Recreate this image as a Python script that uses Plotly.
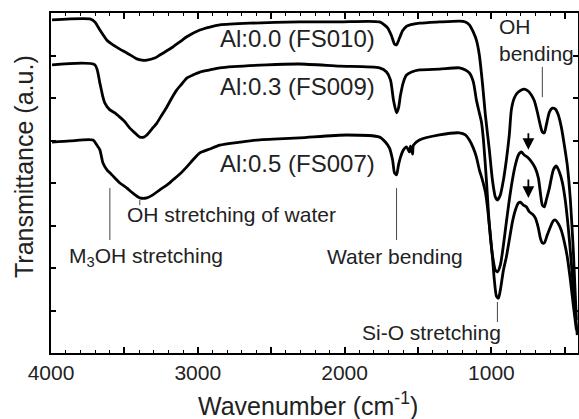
import plotly.graph_objects as go

# ---- data ----
wn_fs010 = [3993, 3735, 3701, 3667, 3619, 3578, 3531, 3483, 3415, 3381, 3347, 3293, 3259, 3211, 3170, 3122, 3075,
            2986, 2918, 2850, 2646, 2306, 2034, 1762, 1707, 1680, 1660, 1646, 1626, 1605, 1578, 1490, 1354, 1218,
            1177, 1150, 1123, 1102, 1082, 1061, 1041, 1014, 993, 973, 959, 939, 918, 898, 878, 864, 844, 823, 796,
            776, 748, 728, 707, 687, 667, 653, 639, 626, 605, 585, 564, 544, 524, 503, 483, 462, 442, 421]
t_fs010 = [7.84, 7.86, 7.79, 7.60, 7.36, 7.25, 7.15, 7.06, 6.92, 6.89, 6.89, 6.94, 7.01, 7.11, 7.20, 7.32, 7.44,
           7.60, 7.67, 7.72, 7.76, 7.79, 7.79, 7.79, 7.65, 7.46, 7.27, 7.25, 7.41, 7.58, 7.69, 7.76, 7.79, 7.81,
           7.79, 7.72, 7.55, 7.36, 7.01, 6.35, 5.60, 4.78, 4.07, 3.67, 3.60, 3.72, 4.07, 4.54, 5.13, 5.72, 6.00,
           6.12, 6.19, 6.21, 6.16, 6.07, 5.93, 5.67, 5.36, 5.20, 5.18, 5.36, 5.67, 5.76, 5.74, 5.60, 5.32, 4.89,
           4.42, 3.60, 2.42, 0.78]

wn_fs009 = [3993, 3701, 3667, 3646, 3633, 3599, 3565, 3531, 3497, 3463, 3429, 3395, 3367, 3347, 3313, 3279, 3245,
            3211, 3177, 3143, 3109, 3075, 3034, 2986, 2918, 2850, 2530, 2306, 2034, 1762, 1714, 1687, 1667, 1646,
            1633, 1619, 1599, 1578, 1544, 1490, 1354, 1218, 1177, 1150, 1123, 1102, 1082, 1068, 1054, 1034, 1014,
            993, 973, 959, 939, 918, 898, 878, 857, 837, 816, 796, 776, 748, 721, 701, 680, 667, 653, 639, 626,
            605, 578, 558, 537, 517, 497, 476, 456, 435, 415]
t_fs009 = [6.78, 6.78, 6.35, 6.02, 5.88, 5.72, 5.65, 5.55, 5.44, 5.29, 5.18, 5.08, 5.08, 5.13, 5.27, 5.41, 5.60,
           5.79, 6.00, 6.19, 6.33, 6.47, 6.54, 6.61, 6.66, 6.71, 6.78, 6.80, 6.75, 6.71, 6.61, 6.42, 5.95, 5.65,
           5.76, 6.07, 6.38, 6.54, 6.61, 6.66, 6.68, 6.71, 6.66, 6.59, 6.38, 5.95, 5.65, 5.44, 5.01, 4.07, 3.01,
           2.31, 1.95, 1.91, 2.07, 2.54, 3.08, 3.60, 4.07, 4.42, 4.66, 4.73, 4.66, 4.59, 4.47, 4.35, 4.12, 3.79,
           3.48, 3.44, 3.60, 3.88, 4.31, 4.40, 4.26, 4.02, 3.60, 2.94, 2.14, 1.25, 0.42]

wn_fs007 = [3993, 3871, 3714, 3687, 3667, 3646, 3619, 3599, 3565, 3531, 3483, 3442, 3395, 3347, 3306, 3259, 3211,
            3170, 3122, 3075, 3034, 2986, 2918, 2850, 2714, 2599, 2306, 1986, 1762, 1721, 1694, 1673, 1660, 1646,
            1633, 1619, 1599, 1578, 1558, 1551, 1537, 1531, 1490, 1354, 1218, 1177, 1150, 1123, 1102, 1082, 1061,
            1041, 1027, 1007, 993, 980, 966, 952, 939, 918, 898, 878, 857, 837, 816, 803, 782, 762, 741, 721, 701,
            680, 667, 653, 639, 619, 599, 578, 564, 544, 524, 503, 483, 462, 442, 421]
t_fs007 = [4.96, 4.99, 5.01, 4.89, 4.78, 4.47, 4.31, 4.24, 4.12, 4.00, 3.88, 3.76, 3.65, 3.65, 3.72, 3.84, 3.95,
           4.07, 4.21, 4.38, 4.54, 4.71, 4.80, 4.89, 4.96, 5.01, 5.06, 5.13, 5.08, 4.96, 4.82, 4.54, 4.24, 4.19,
           4.42, 4.61, 4.78, 4.85, 4.73, 4.87, 4.68, 4.89, 5.01, 5.13, 5.18, 5.13, 5.01, 4.82, 4.61, 4.31, 4.07,
           3.79, 3.44, 2.78, 2.26, 1.72, 1.34, 1.29, 1.48, 1.95, 2.26, 2.66, 3.08, 3.36, 3.53, 3.55, 3.48, 3.44,
           3.32, 3.27, 3.18, 2.94, 2.71, 2.59, 2.59, 2.78, 2.96, 3.11, 3.13, 3.04, 2.89, 2.61, 2.26, 1.72, 1.13,
           0.54]

series_names = ["Al:0.0 (FS010)", "Al:0.3 (FS009)", "Al:0.5 (FS007)"]
label_pos = [(2323, 7.40), (2323, 6.27), (2323, 4.46)]

x_tickvals = [4000, 3500, 3000, 2500, 2000, 1500, 1000, 500]
x_ticktext = ["4000", "", "3000", "", "2000", "", "1000", ""]
y_tickvals = [1, 2, 3, 4, 5, 6, 7]

FONT = "Liberation Sans, Arial, sans-serif"

fig = go.Figure()
for wn, t, name in [(wn_fs010, t_fs010, series_names[0]),
                    (wn_fs009, t_fs009, series_names[1]),
                    (wn_fs007, t_fs007, series_names[2])]:
    fig.add_trace(go.Scatter(x=wn, y=t, mode="lines", name=name,
                             line=dict(color="black", width=2.8, shape="spline", smoothing=0.6),
                             showlegend=False))

# series labels
for name, (lx, ly) in zip(series_names, label_pos):
    fig.add_annotation(x=lx, y=ly, text=name, showarrow=False, xanchor="center", yanchor="middle",
                       font=dict(size=24, color="#222", family=FONT))

# band marker lines
marker_lines = [(3599, 3.88, 2.66), (3395, 3.60, 3.48), (1646, 3.88, 2.66), (959, 1.20, 0.73), (653, 6.73, 6.02)]
for mx, y0, y1 in marker_lines:
    fig.add_shape(type="line", x0=mx, x1=mx, y0=y0, y1=y1, xref="x", yref="y",
                  line=dict(color="#444", width=1))

# band labels
band_labels = [
    ("M<sub>3</sub>OH stretching", 3891, 2.26, "left"),
    ("OH stretching of water", 3497, 3.25, "left"),
    ("Water bending", 1660, 2.26, "center"),
    ("Si-O stretching", 1408, 0.49, "center"),
]
for txt, bx, by, anc in band_labels:
    fig.add_annotation(x=bx, y=by, text=txt, showarrow=False, xanchor=anc, yanchor="middle",
                       font=dict(size=21, color="#222", family=FONT))
fig.add_annotation(x=959, y=7.37, text="OH<br>bending", showarrow=False, xanchor="left", yanchor="middle",
                   align="left", font=dict(size=21, color="#222", family=FONT))

# arrows at ~750 cm-1
for tip, tail_px in [(4.78, 18), (3.65, 20)]:
    fig.add_annotation(x=748, y=tip, ax=0, ay=-tail_px, text="", showarrow=True, arrowhead=2,
                       arrowsize=1.3, arrowwidth=1.8, arrowcolor="black", axref="pixel", ayref="pixel")

# axis titles
fig.add_annotation(x=2252, y=-0.15, xref="x", yref="paper", text="Wavenumber (cm<sup>-1</sup>)",
                   showarrow=False, xanchor="center", yanchor="middle",
                   font=dict(size=25, color="#222", family=FONT))
fig.add_annotation(x=-0.0512, y=0.547, xref="paper", yref="paper", text="Transmittance (a.u.)",
                   showarrow=False, xanchor="center", yanchor="middle", textangle=-90,
                   font=dict(size=25, color="#222", family=FONT))

fig.update_xaxes(range=[4000, 410], tickmode="array", tickvals=x_tickvals, ticktext=x_ticktext,
                 ticks="inside", ticklen=6, tickwidth=1.5, tickcolor="black",
                 showline=True, linecolor="black", linewidth=2, mirror="ticks",
                 showgrid=False, zeroline=False, automargin=False,
                 tickfont=dict(size=21, color="#222", family=FONT),
                 minor=dict(dtick=100, ticks="inside", ticklen=3, tickwidth=1, tickcolor="black", showgrid=False))
fig.update_yaxes(range=[0, 8], tickmode="array", tickvals=y_tickvals, showticklabels=False,
                 ticks="inside", ticklen=5, tickwidth=1.5, tickcolor="black",
                 showline=True, linecolor="black", linewidth=2, mirror="ticks",
                 showgrid=False, zeroline=False, automargin=False)

fig.update_layout(width=579, height=419, margin=dict(l=51, r=1, t=13, b=66, pad=0, autoexpand=False),
                  plot_bgcolor="white", paper_bgcolor="white",
                  font=dict(family=FONT, color="#222"))

fig.write_html("out.html")
